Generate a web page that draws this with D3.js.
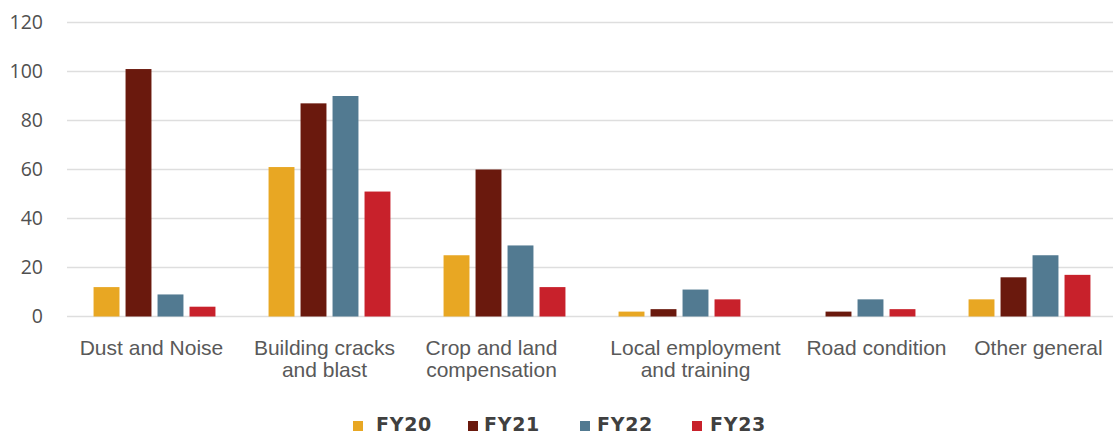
<!DOCTYPE html>
<html>
<head>
<meta charset="utf-8">
<script src="https://cdn.jsdelivr.net/npm/d3@7"></script>
<style>
  body { margin: 0; background: #fff; }
  svg { display: block; }
</style>
</head>
<body>
<svg id="chart" width="1113" height="437"></svg>
<script>
// Chart data
const categories = [
    ["Dust and Noise"],
    ["Building cracks", "and blast"],
    ["Crop and land", "compensation"],
    ["Local employment", "and training"],
    ["Road condition"],
    ["Other general"]
];
const seriesNames = ["FY20", "FY21", "FY22", "FY23"];
const fy20 = [12, 61, 25, 2, 0, 7];
const fy21 = [101, 87, 60, 3, 2, 16];
const fy22 = [9, 90, 29, 11, 7, 25];
const fy23 = [4, 51, 12, 7, 3, 17];
const yTicks = [0, 20, 40, 60, 80, 100, 120];

const seriesValues = [fy20, fy21, fy22, fy23];
const colors = ["#e8a723", "#6a190d", "#527a91", "#c8212b"];
// small horizontal nudges of the category labels, as in the original
const labelShift = [-3, -5, -13, 16, 22, 9];

const svg = d3.select("#chart");

// Scales
const x0 = d3.scaleBand()
    .domain(d3.range(categories.length))
    .range([67, 1117])
    .padding(0);

const x1 = d3.scaleBand()
    .domain(seriesNames)
    .range([0, x0.bandwidth()])
    .paddingInner(0.19)
    .paddingOuter(0.83);

const y = d3.scaleLinear()
    .domain([0, 120])
    .range([316.5, 22.5]);

// Grid lines
svg.append("g")
    .selectAll("line")
    .data(yTicks)
    .enter()
    .append("line")
    .attr("x1", 67)
    .attr("x2", 1113)
    .attr("y1", d => y(d))
    .attr("y2", d => y(d))
    .attr("stroke", "#dedede")
    .attr("stroke-width", 1.5);

// Y axis labels
const yAxis = svg.append("g")
    .attr("transform", "translate(47,0)")
    .call(d3.axisLeft(y).tickValues(yTicks).tickSize(0).tickPadding(4));
yAxis.select(".domain").remove();
yAxis.selectAll("text")
    .attr("font-family", "'Open Sans', sans-serif")
    .attr("font-size", 19.5)
    .attr("fill", "#505050");

// Bars
const rows = categories.map((c, i) => ({
    index: i,
    values: seriesNames.map((s, j) => ({ key: s, value: seriesValues[j][i], color: colors[j] }))
}));

const groups = svg.append("g")
    .selectAll("g")
    .data(rows)
    .enter()
    .append("g")
    .attr("transform", d => `translate(${x0(d.index)},0)`);

groups.selectAll("rect")
    .data(d => d.values.filter(v => v.value > 0))
    .enter()
    .append("rect")
    .attr("x", d => x1(d.key))
    .attr("y", d => y(d.value))
    .attr("width", x1.bandwidth())
    .attr("height", d => y(0) - y(d.value))
    .attr("fill", d => d.color);

// Category labels
const labels = svg.append("g")
    .selectAll("text")
    .data(categories)
    .enter()
    .append("text")
    .attr("x", (d, i) => x0(i) + x0.bandwidth() / 2 + labelShift[i])
    .attr("y", 355)
    .attr("text-anchor", "middle")
    .attr("font-family", "'Liberation Sans', Arial, sans-serif")
    .attr("font-size", 21)
    .attr("fill", "#595959");

labels.selectAll("tspan")
    .data(d => d)
    .enter()
    .append("tspan")
    .attr("x", function () { return d3.select(this.parentNode).attr("x"); })
    .attr("dy", (d, i) => i === 0 ? 0 : 21.5)
    .text(d => d);

// Legend
const legendX = [353, 468, 580, 692];
const legendTextX = [23, 16, 17, 18];
const legend = svg.append("g")
    .selectAll("g")
    .data(seriesNames)
    .enter()
    .append("g")
    .attr("transform", (d, i) => `translate(${legendX[i]},426)`);

legend.append("rect")
    .attr("x", 0)
    .attr("y", -5)
    .attr("width", 10)
    .attr("height", 10)
    .attr("fill", (d, i) => colors[i]);

legend.append("text")
    .attr("x", (d, i) => legendTextX[i])
    .attr("y", 5)
    .attr("font-family", "'DejaVu Sans', sans-serif")
    .attr("font-weight", "bold")
    .attr("font-size", 19)
    .attr("letter-spacing", 0.7)
    .attr("fill", "#404040")
    .text(d => d);
</script>
</body>
</html>
